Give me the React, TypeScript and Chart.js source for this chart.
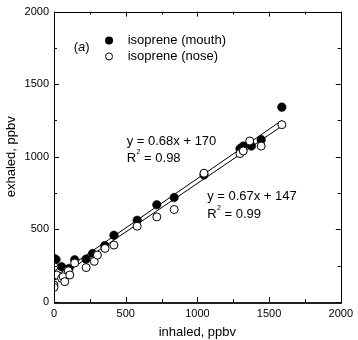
import { useEffect, useRef } from "react";
import { Chart, registerables } from "chart.js";

Chart.register(...registerables);

const mouthX = [0, 14, 53, 105, 144, 224, 269, 354, 418, 580, 717, 838, 1046, 1297, 1305, 1320, 1377, 1445, 1589];
const mouthY = [300, 293, 243, 231, 291, 295, 334, 388, 460, 563, 670, 720, 875, 1056, 1045, 1074, 1074, 1118, 1342];

const noseX = [0, 0, 0, 0, 18, 53, 64, 75, 100, 110, 144, 224, 281, 303, 356, 418, 580, 717, 838, 1046, 1297, 1320, 1365, 1445, 1589];
const noseY = [243, 186, 117, 101, 186, 163, 174, 140, 215, 186, 268, 237, 280, 323, 369, 392, 522, 586, 637, 887, 1022, 1040, 1109, 1074, 1221];

const fitMouthX = [0, 1590];
const fitMouthY = [170, 1251];
const fitNoseX = [0, 1590];
const fitNoseY = [147, 1212];

const axisMin = 0;
const axisMax = 2000;
const majorStep = 500;
const minorStep = 250;

const legendLabels = ["isoprene (mouth)", "isoprene (nose)"];
const eqMouth = ["y = 0.68x + 170", "0.98"];
const eqNose = ["y = 0.67x + 147", "0.99"];

const FONT = "'Liberation Sans', Arial, Helvetica, sans-serif";

const toPts = (xs: number[], ys: number[]) => xs.map((x, i) => ({ x, y: ys[i] }));

const decor = {
  id: "decor",
  afterDatasetsDraw(chart: any) {
    const { ctx, chartArea: a, scales } = chart;
    const xs = scales.x;
    const ys = scales.y;
    ctx.save();
    ctx.strokeStyle = "#000";
    ctx.lineWidth = 1;
    ctx.strokeRect(Math.round(a.left) + 0.5, Math.round(a.top) + 0.5, Math.round(a.right - a.left), Math.round(a.bottom - a.top));
    ctx.beginPath();
    ctx.lineWidth = 2;
    ctx.strokeStyle = "#222";
    ctx.moveTo(Math.round(a.left), Math.round(a.bottom) + 1);
    ctx.lineTo(Math.round(a.right) + 1, Math.round(a.bottom) + 1);
    ctx.stroke();
    ctx.lineWidth = 1;
    ctx.strokeStyle = "#000";
    ctx.beginPath();
    for (let v = axisMin; v <= axisMax; v += minorStep) {
      const len = v % majorStep === 0 ? 5 : 3;
      const px = Math.round(xs.getPixelForValue(v)) + 0.5;
      ctx.moveTo(px, a.bottom);
      ctx.lineTo(px, a.bottom - len);
      ctx.moveTo(px, a.top);
      ctx.lineTo(px, a.top + len);
      const py = Math.round(ys.getPixelForValue(v)) + 0.5;
      ctx.moveTo(a.left, py);
      ctx.lineTo(a.left + len, py);
      ctx.moveTo(a.right, py);
      ctx.lineTo(a.right - len, py);
    }
    ctx.stroke();

    const X = (v: number) => xs.getPixelForValue(v);
    const Y = (v: number) => ys.getPixelForValue(v);
    ctx.fillStyle = "#000";
    ctx.textBaseline = "middle";
    ctx.textAlign = "left";

    // panel label (a)
    let tx = X(137);
    const ty = Y(1755);
    ctx.font = `13px ${FONT}`;
    ctx.fillText("(", tx, ty);
    tx += ctx.measureText("(").width;
    ctx.font = `italic 13px ${FONT}`;
    ctx.fillText("a", tx, ty);
    tx += ctx.measureText("a").width;
    ctx.font = `13px ${FONT}`;
    ctx.fillText(")", tx, ty);

    // legend
    const lx = X(384);
    const l1 = Y(1801);
    const l2 = Y(1691);
    ctx.beginPath();
    ctx.arc(lx, l1, 4, 0, Math.PI * 2);
    ctx.fill();
    ctx.beginPath();
    ctx.arc(lx, l2, 3.5, 0, Math.PI * 2);
    ctx.fillStyle = "#fff";
    ctx.fill();
    ctx.stroke();
    ctx.fillStyle = "#000";
    ctx.fillText(legendLabels[0], X(514), l1);
    ctx.fillText(legendLabels[1], X(514), l2);

    const eq = (lines: string[], xv: number, y1: number, y2: number) => {
      const x0 = X(xv);
      ctx.font = `13px ${FONT}`;
      ctx.fillText(lines[0], x0, Y(y1));
      const ry = Y(y2);
      ctx.fillText("R", x0, ry);
      const rw = ctx.measureText("R").width;
      ctx.font = `7px ${FONT}`;
      ctx.fillText("2", x0 + rw + 0.5, ry - 6);
      const sw = ctx.measureText("2").width;
      ctx.font = `13px ${FONT}`;
      ctx.fillText(" = " + lines[1], x0 + rw + sw + 0.5, ry);
    };
    eq(eqMouth, 507, 1107, 990);
    eq(eqNose, 1068, 724, 605);
    ctx.restore();
  },
};

const plainTick = (v: any) => (Number(v) % majorStep === 0 ? String(v) : "");

export default function App() {
  const ref = useRef<HTMLCanvasElement>(null);
  useEffect(() => {
    if (!ref.current) return;
    const chart = new Chart(ref.current, {
      type: "scatter",
      data: {
        datasets: [
          {
            label: legendLabels[1],
            data: toPts(noseX, noseY),
            pointRadius: 4,
            pointBackgroundColor: "#fff",
            pointBorderColor: "#000",
            pointBorderWidth: 1,
            order: 0,
          },
          {
            label: legendLabels[0],
            data: toPts(mouthX, mouthY),
            pointRadius: 4.3,
            pointBackgroundColor: "#000",
            pointBorderColor: "#000",
            pointBorderWidth: 0.5,
            order: 1,
          },
          {
            type: "line",
            label: "fit mouth",
            data: toPts(fitMouthX, fitMouthY),
            borderColor: "#000",
            borderWidth: 1,
            pointRadius: 0,
            showLine: true,
            fill: false,
            order: 2,
          },
          {
            type: "line",
            label: "fit nose",
            data: toPts(fitNoseX, fitNoseY),
            borderColor: "#000",
            borderWidth: 1,
            pointRadius: 0,
            showLine: true,
            fill: false,
            order: 2,
          },
        ] as any,
      },
      options: {
        responsive: false,
        animation: false,
        layout: { padding: { top: 11, right: 12, left: 0, bottom: 0 } },
        plugins: { legend: { display: false }, tooltip: { enabled: false } },
        scales: {
          x: {
            type: "linear",
            min: axisMin,
            max: axisMax,
            grid: { display: false, drawTicks: false },
            border: { display: false },
            ticks: { stepSize: majorStep, color: "#000", font: { family: FONT, size: 11 }, padding: 5, maxRotation: 0, callback: plainTick },
            title: { display: true, text: "inhaled, ppbv", color: "#000", font: { family: FONT, size: 13 }, padding: { top: 0, bottom: 0 } },
            afterFit: (s: any) => {
              s.height = 38;
            },
          },
          y: {
            type: "linear",
            min: axisMin,
            max: axisMax,
            grid: { display: false, drawTicks: false },
            border: { display: false },
            ticks: { stepSize: majorStep, color: "#000", font: { family: FONT, size: 11 }, padding: 5, callback: plainTick },
            title: { display: true, text: "exhaled, ppbv", color: "#000", font: { family: FONT, size: 13 }, padding: { top: 4, bottom: 0 } },
            afterFit: (s: any) => {
              s.width = 54;
            },
          },
        },
      },
      plugins: [decor],
    });
    return () => chart.destroy();
  }, []);
  return (
    <div style={{ position: "fixed", left: 0, top: 0 }}>
      <canvas ref={ref} width={358} height={340} style={{ width: 358, height: 340, display: "block" }} />
    </div>
  );
}
